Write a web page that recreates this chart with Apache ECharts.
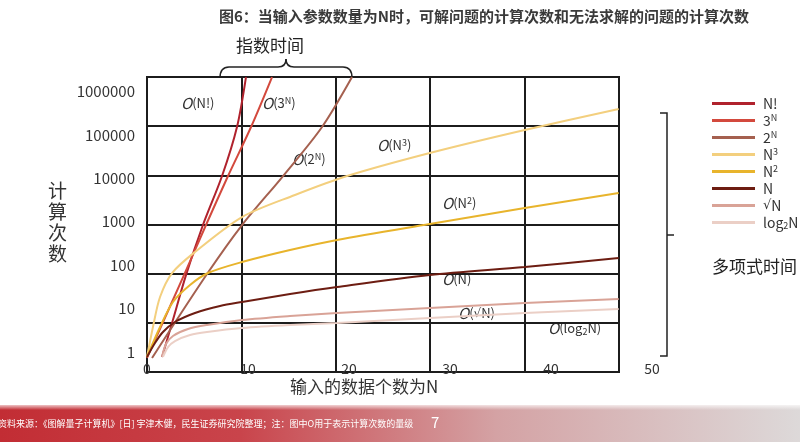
<!DOCTYPE html>
<html>
<head>
<meta charset="utf-8">
<script src="https://cdn.jsdelivr.net/npm/echarts@6/dist/echarts.min.js"></script>
<style>
html,body{margin:0;padding:0;background:#fff}
#main{width:800px;height:442px}
</style>
</head>
<body>
<div id="main"></div>
<script>
// 读图得到的曲线数据 [N, 计算次数]
var dataFact  = [[1.49,0.77],[2.48,4.66],[3.86,59],[5.54,841],[7.43,11300],[8.91,152000],[9.8,2150000]];
var dataPow3  = [[0,0.73],[3.66,59],[5.84,841],[8.02,11300],[10.3,152000],[12.38,2150000]];
var dataPow2  = [[0.5,0.73],[5.94,62.6],[9.41,841],[13.47,11300],[17.33,152000],[20.3,2150000]];
var dataCube  = [[0,0.77],[0.59,3.77],[1.29,18.5],[2.48,65.9],[4.75,201],[9.41,1285],[14.65,4130],[19.8,11300],[28,38300],[37.4,129800],[46.7,395000]];
var dataSq    = [[0,0.77],[1.29,3.77],[2.57,14.2],[4.26,34.9],[6.04,65.9],[9.41,118],[14.16,223],[18.81,380],[28,887],[37.4,2072],[46.7,4590]];
var dataLin   = [[0,0.77],[0.79,1.61],[1.58,2.89],[2.77,4.91],[4.75,7.91],[7.23,11.5],[9.41,14.2],[14.16,21.7],[18.81,31.4],[28,59.3],[37.4,90.7],[46.7,146]];
var dataSqrt  = [[1.49,0.77],[1.88,1.53],[2.57,2.34],[4.06,3.39],[5.94,4.19],[9.41,5.46],[14.16,6.75],[18.81,7.91],[28,10.3],[37.4,13.4],[46.7,16.6]];
var dataLog   = [[1.58,0.77],[2.08,1.3],[2.77,1.79],[4.26,2.46],[5.94,2.89],[9.41,3.57],[14.16,4.19],[18.81,4.66],[28,6.07],[37.4,7.91],[46.7,9.78]];

var seriesNames  = ['N!','3N','2N','N3','N2','N','sqrtN','log2N'];
var legendLabels = ['N!','3{sup|N}','2{sup|N}','N{sup|3}','N{sup|2}','N','{r|√}N','log{sub|2}N'];
var seriesColors = ['#b0222d','#d3493d','#a5604f','#f3cf7e','#e8b42c','#6d1d12','#d9a397','#ebcfc6'];
var seriesData   = [dataFact,dataPow3,dataPow2,dataCube,dataSq,dataLin,dataSqrt,dataLog];

var titleText = '图6：当输入参数数量为N时，可解问题的计算次数和无法求解的问题的计算次数';
var sourceText = '资料来源：《图解量子计算机》[日] 宇津木健，民生证券研究院整理；注：图中O用于表示计算次数的量级';

var FONT = '"Noto Sans CJK SC", "Noto Sans", sans-serif';
var ROOT_FONT = '"DejaVu Sans", sans-serif';

var myChart = echarts.init(document.getElementById('main'));

var series = [];
for (var i = 0; i < seriesNames.length; i++) {
	series.push({
		name: seriesNames[i],
		type: 'line',
		xAxisIndex: 0,
		yAxisIndex: 0,
		data: seriesData[i],
		smooth: 0.3,
		showSymbol: false,
		silent: true,
		color: seriesColors[i],
		lineStyle: { width: 2, color: seriesColors[i] },
		z: 3
	});
}

var richSup = {
	o: { fontStyle: 'italic', fontSize: 15, fontFamily: FONT, fill: '#333' },
	sup: { fontSize: 9, verticalAlign: 'top', fontFamily: FONT, fill: '#333' },
	sub: { fontSize: 9, verticalAlign: 'bottom', fontFamily: FONT, fill: '#333' },
	r: { fontSize: 12, fontFamily: ROOT_FONT, fill: '#333' }
};

// 曲线旁的标注
function curveLabel(text, x, y) {
	return {
		type: 'text', left: x, top: y,
		style: { text: text, font: '13px ' + FONT, fill: '#333', rich: richSup }
	};
}

// 括号线段
var braceStyle = { stroke: '#222', lineWidth: 1.5, fill: null };
function qcurve(x1, y1, cx, cy, x2, y2) {
	return { type: 'bezierCurve', shape: { x1: x1, y1: y1, cpx1: cx, cpy1: cy, x2: x2, y2: y2 }, style: braceStyle };
}
function seg(x1, y1, x2, y2) {
	return { type: 'line', shape: { x1: x1, y1: y1, x2: x2, y2: y2 }, style: braceStyle };
}

var option = {
	animation: false,
	backgroundColor: '#fff',
	title: {
		text: titleText,
		left: 479, top: 4, textAlign: 'center',
		textStyle: { fontSize: 15, fontWeight: 'bold', color: '#3a3a3a', fontFamily: FONT }
	},
	legend: {
		orient: 'vertical',
		left: 707, top: 91,
		itemWidth: 43, itemHeight: 3, itemGap: 2,
		icon: 'rect',
		selectedMode: false,
		data: seriesNames,
		formatter: function(name) {
			return legendLabels[seriesNames.indexOf(name)];
		},
		textStyle: {
			fontSize: 14, color: '#333', fontFamily: FONT, lineHeight: 15, padding: [0, 0, 0, 3],
			rich: {
				sup: { fontSize: 9, verticalAlign: 'top', lineHeight: 15, color: '#333' },
				sub: { fontSize: 9, verticalAlign: 'bottom', lineHeight: 15, color: '#333' },
				r: { fontSize: 13, fontFamily: ROOT_FONT, lineHeight: 15, color: '#333' }
			}
		}
	},
	grid: [
		{ left: 147, right: 148, top: 77, bottom: 70 },
		{ left: 147, right: 181, top: 77, bottom: 70, show: true, borderColor: '#1c1c1c', borderWidth: 2 }
	],
	xAxis: [{
		gridIndex: 0, type: 'value', min: 0, max: 50, interval: 10,
		axisLine: { show: false }, axisTick: { show: false }, splitLine: { show: false },
		axisLabel: { margin: -10, fontSize: 14, color: '#333', fontFamily: FONT }
	}, {
		gridIndex: 1, type: 'value', min: 0, max: 5, interval: 1,
		axisLine: { show: false }, axisTick: { show: false }, axisLabel: { show: false },
		splitLine: { lineStyle: { color: '#1c1c1c', width: 2 } }
	}],
	yAxis: [{
		gridIndex: 0, type: 'log', logBase: 10, min: 0.3462, max: 2158000,
		axisLine: { show: false }, axisTick: { show: false }, splitLine: { show: false },
		axisLabel: {
			margin: 12, fontSize: 15, color: '#333', fontFamily: FONT,
			showMinLabel: false, showMaxLabel: false,
			formatter: function(v) {
				var l = Math.log(v) / Math.LN10;
				if (Math.abs(l - Math.round(l)) < 1e-6) return String(Math.round(v));
				return '';
			}
		}
	}, {
		gridIndex: 1, type: 'value', min: 0, max: 6, interval: 1,
		axisLine: { show: false }, axisTick: { show: false }, axisLabel: { show: false },
		splitLine: { lineStyle: { color: '#1c1c1c', width: 2 } }
	}],
	graphic: [
		// 坐标轴标题
		{ type: 'text', left: 48, top: 180, style: { text: '计\n算\n次\n数', font: '19px ' + FONT, fill: '#333', lineHeight: 21 } },
		{ type: 'text', left: 290, top: 378, style: { text: '输入的数据个数为N', font: '17px ' + FONT, fill: '#333' } },
		// 指数时间
		{ type: 'text', left: 236, top: 37, style: { text: '指数时间', font: '17px ' + FONT, fill: '#222' } },
		qcurve(220, 78, 220, 67, 229, 67), seg(229, 67, 278, 67), qcurve(278, 67, 286, 67, 286, 59),
		qcurve(286, 59, 286, 67, 294, 67), seg(294, 67, 343, 67), qcurve(343, 67, 352, 67, 352, 78),
		// 多项式时间
		{ type: 'polyline', shape: { points: [[660,113],[667,113],[667,356],[660,356]] }, style: braceStyle },
		seg(667, 235, 674, 235),
		{ type: 'text', left: 712, top: 258, style: { text: '多项式时间', font: '17px ' + FONT, fill: '#222' } },
		// 曲线标注
		curveLabel('{o|O}(N!)', 181, 96),
		curveLabel('{o|O}(3{sup|N})', 262, 96),
		curveLabel('{o|O}(2{sup|N})', 292, 152),
		curveLabel('{o|O}(N{sup|3})', 377, 138),
		curveLabel('{o|O}(N{sup|2})', 442, 196),
		curveLabel('{o|O}(N)', 442, 272),
		curveLabel('{o|O}({r|√}N)', 458, 306),
		curveLabel('{o|O}(log{sub|2}N)', 548, 321),
		// 底部来源栏
		{ type: 'rect', shape: { x: 0, y: 405, width: 800, height: 37 }, z: -1,
		  style: { fill: new echarts.graphic.LinearGradient(0, 0, 1, 0, [
			{ offset: 0, color: '#c22d34' }, { offset: 0.3, color: '#c9444b' },
			{ offset: 0.62, color: '#d4a2a4' }, { offset: 1, color: '#ddd9d9' }]) } },
		{ type: 'rect', shape: { x: 0, y: 403, width: 800, height: 7 }, z: 0,
		  style: { fill: new echarts.graphic.LinearGradient(0, 0, 0, 1, [
			{ offset: 0, color: 'rgba(255,255,255,1)' }, { offset: 1, color: 'rgba(255,255,255,0)' }]) } },
		{ type: 'text', left: -2, top: 419, style: { text: sourceText, font: '9px ' + FONT, fill: '#fff' } },
		{ type: 'text', left: 431, top: 415, style: { text: '7', font: '15px ' + FONT, fill: '#fff' } }
	],
	series: series
};

myChart.setOption(option);
</script>
</body>
</html>
